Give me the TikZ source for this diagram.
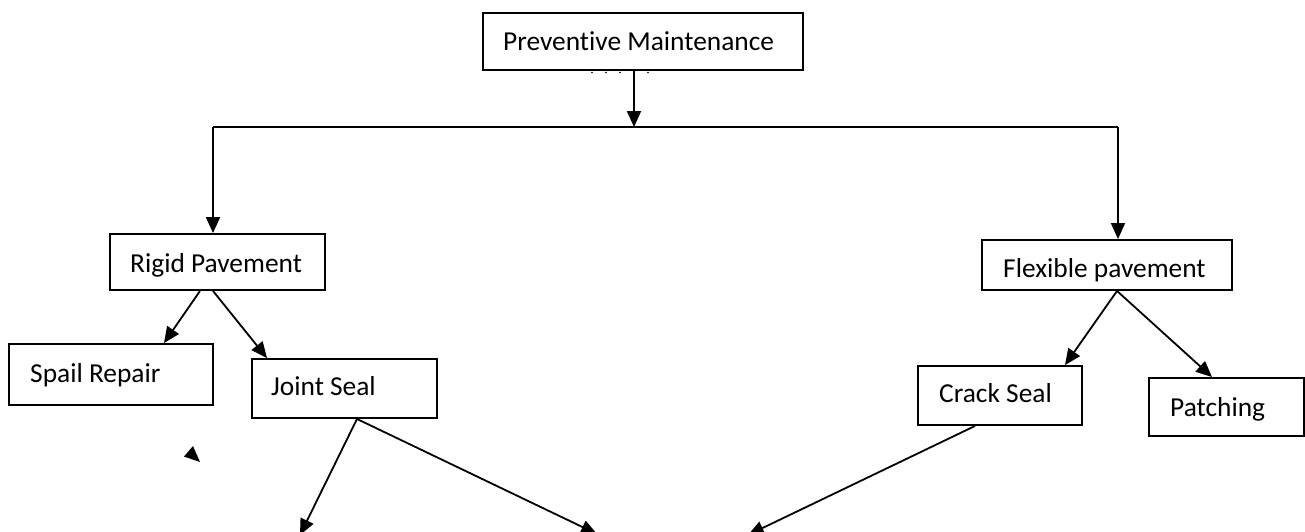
\documentclass[tikz,border=0pt]{standalone}
\usepackage{fontspec}
\setmainfont{Carlito}[Ligatures=NoCommon]
\usetikzlibrary{arrows.meta,calc}
\begin{document}
\begin{tikzpicture}[x=1pt,y=-1pt,
  box/.style={draw,line width=1.9pt,inner sep=0pt},
  lbl/.style={inner sep=0pt,anchor=base west,font=\fontsize{27.4}{32}\selectfont},
  wire/.style={line width=1.8pt},
  link/.style={wire,-{Triangle[length=16pt,width=14pt]}}]
\useasboundingbox (0,0) rectangle (1305,531);
\clip (0,0) rectangle (1305,531);

% boxes
\node[box,minimum width=320,minimum height=57] (pm)    at (643,41.5)   {};
\node[box,minimum width=215,minimum height=56] (rigid) at (217.5,262)  {};
\node[box,minimum width=204,minimum height=61] (spail) at (111,374.5)  {};
\node[box,minimum width=185,minimum height=59] (joint) at (344.5,388.5){};
\node[box,minimum width=250,minimum height=50] (flex)  at (1107,265)   {};
\node[box,minimum width=164,minimum height=59] (crack) at (1000,395.5) {};
\node[box,minimum width=155,minimum height=58] (patch) at (1226.5,407) {};

% labels
\node[lbl] (tpm)    at (503,50)   {Preventive Maintenance};
\node[lbl] (trigid) at (130,272)  {Rigid Pavement};
\node[lbl] (tspail) at (30,382)   {Spail Repair};
\node[lbl] (tjoint) at (271,395)  {Joint Seal};
\node[lbl] (tflex)  at (1003,277) {Flexible pavement};
\node[lbl] (tcrack) at (939,402)  {Crack Seal};
\node[lbl] (tpatch) at (1170,416) {Patching};

% small dots under the top box
\foreach \x in {592,606,620,648} \fill (\x,72.5) circle (0.9);

% junction points and loose ends
\coordinate (hub) at (634,127);
\coordinate (jl)  at (213,127);
\coordinate (jr)  at (1118,127);
\coordinate (e1)  at (300,535);
\coordinate (e2)  at (597,534);
\coordinate (e3)  at (748,535);

% connectors
\draw[link] (pm.south -| hub) -- (hub);
\draw[wire] (jl) -- (jr);
\draw[link] (jl) -- (jl |- rigid.north);
\draw[link] (jr) -- (jr |- flex.north);
\draw[link] ($(rigid.south)+(-17.5,0)$) -- ($(spail.north)+(53,0)$);
\draw[link] ($(rigid.south)+(-4.5,0)$) -- ($(joint.north)+(-77.5,0)$);
\draw[link] ($(flex.south)+(10,0)$) -- ($(crack.north)+(65,0)$);
\draw[link] ($(flex.south)+(10,0)$) -- ($(patch.north)+(-14.5,0)$);
\draw[link] ($(joint.south)+(12.5,0)$) -- (e1);
\draw[link] ($(joint.south)+(12.5,0)$) -- (e2);
\draw[link] ($(crack.south)+(-25,0)$) -- (e3);

% lone arrowhead
\fill (193,446) -- (184,456.5) -- (200,462) -- cycle;
\end{tikzpicture}
\end{document}
